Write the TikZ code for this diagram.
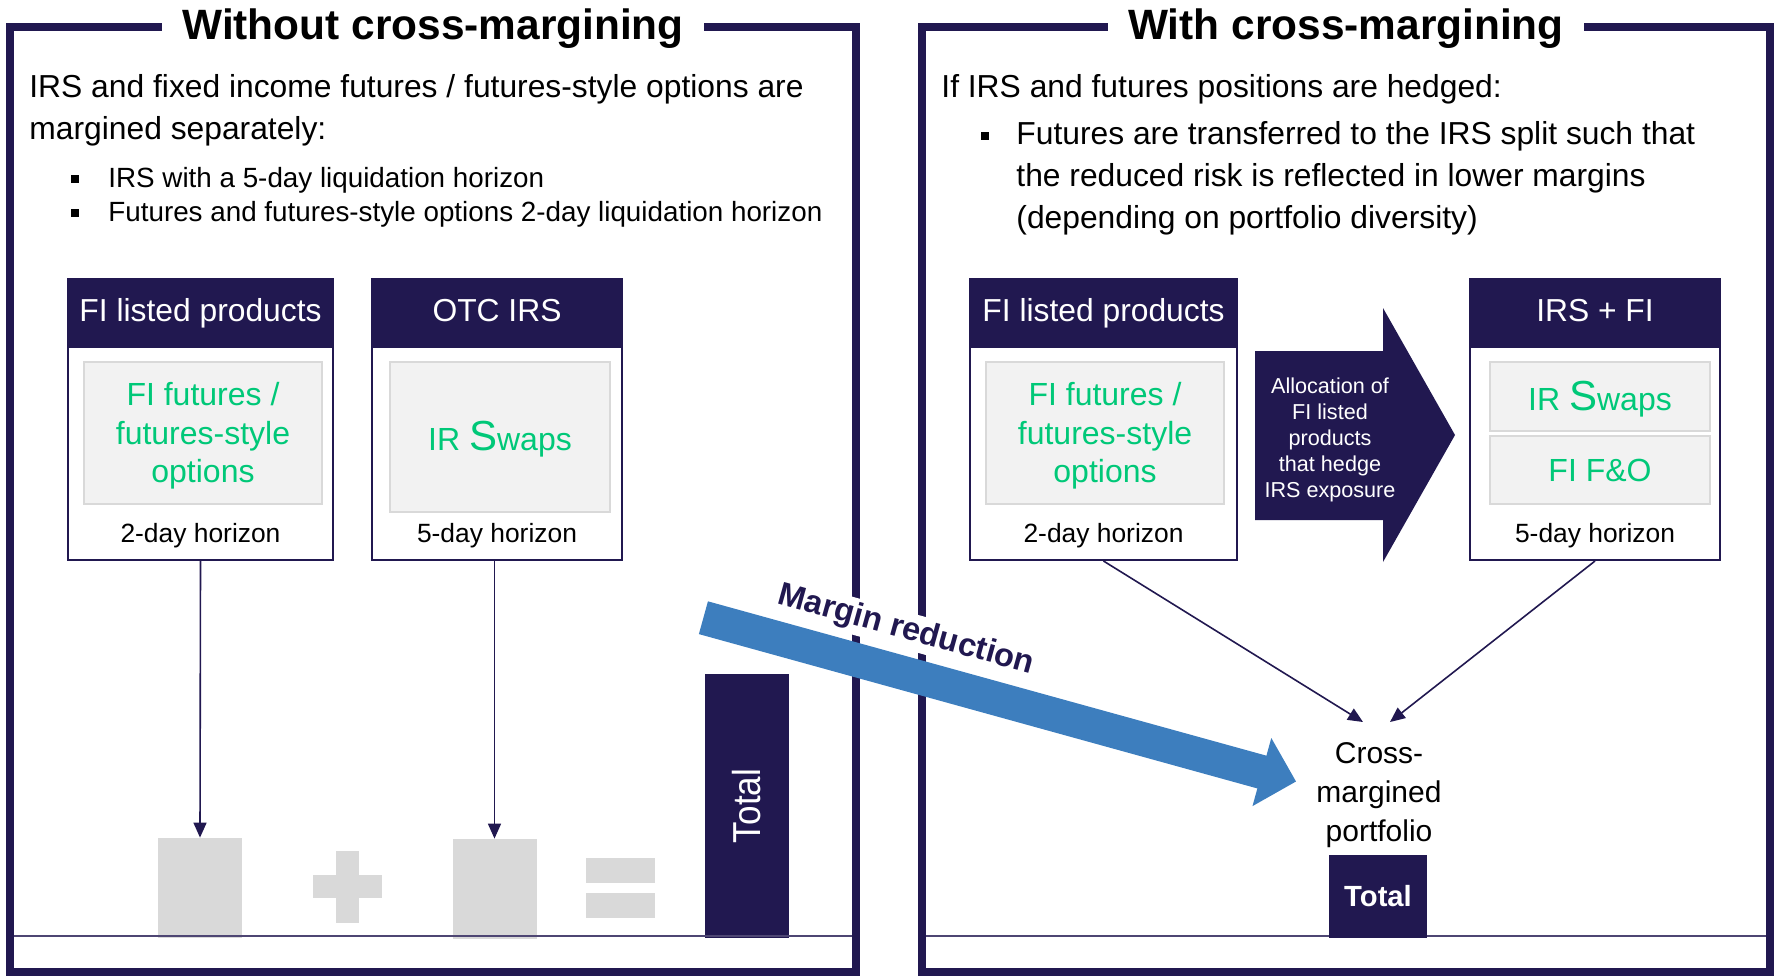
\documentclass[tikz,border=0pt]{standalone}
\usepackage{fontspec}
\setmainfont{Liberation Sans}
\usetikzlibrary{arrows.meta,positioning}

\definecolor{marino}{RGB}{33,24,80}
\definecolor{verde}{RGB}{0,200,120}
\definecolor{grisfondo}{RGB}{242,242,242}
\definecolor{grisborde}{RGB}{217,217,217}
\definecolor{azul}{RGB}{61,126,190}
\newcommand{\Sgrande}{{\fontsize{21}{21}\selectfont S}}

\begin{document}
\begin{tikzpicture}[x=0.5pt,y=-0.5pt,
  marco/.style={draw=marino,line width=4pt},
  titulo/.style={fill=white,inner xsep=10pt,inner ysep=2pt,anchor=base,font=\bfseries\fontsize{21.2}{24}\selectfont},
  texto/.style={anchor=base west,inner sep=0pt,font=\fontsize{15.9}{19}\selectfont},
  textochico/.style={texto,font=\fontsize{13.9}{16}\selectfont},
  vineta/.style={fill=black,minimum size=4pt,inner sep=0pt},
  caja/.style={draw=marino,line width=1pt,fill=white,inner sep=0pt,minimum height=140.5pt},
  cabecera/.style={fill=marino,draw=marino,line width=1pt,text=white,anchor=north,minimum height=34pt,inner sep=0pt,text height=11.5pt,text depth=3.3pt,font=\fontsize{15.9}{19}\selectfont},
  interior/.style={fill=grisfondo,draw=grisborde,line width=1.2pt,inner sep=0pt},
  verdes/.style={text=verde,align=center,inner sep=0pt,font=\fontsize{16}{19.3}\selectfont},
  horizonte/.style={anchor=base,inner sep=0pt,font=\fontsize{13.2}{15}\selectfont},
  flecha/.style={draw=marino,line width=0.8pt,-{Triangle[length=7.5pt,width=6.5pt]}},
  barra/.style={fill=grisborde,inner sep=0pt,minimum width=42pt,minimum height=50pt},
  total/.style={fill=marino,text=white,inner sep=0pt}
]
\useasboundingbox (0,0) rectangle (1776,976);

%Marcos de los dos paneles
\draw[marco] (10,27) rectangle (856,972);
\draw[marco] (922,27) rectangle (1770,972);
\node[titulo] (tituloL) at (433,39) {Without cross-margining};
\node[titulo] (tituloR) at (1346,39) {With cross-margining};

%Texto del panel izquierdo
\node[texto] (introL1) at (29,97) {IRS and fixed income futures / futures-style options are};
\node[texto] (introL2) at (29,139) {margined separately:};
\node[vineta] (vinL1) at (75,179) {};
\node[textochico] (itemL1) at (108,187) {IRS with a 5-day liquidation horizon};
\node[vineta] (vinL2) at (75,213) {};
\node[textochico] (itemL2) at (108,221) {Futures and futures-style options 2-day liquidation horizon};

%Texto del panel derecho
\node[texto] (introR) at (941,97) {If IRS and futures positions are hedged:};
\node[vineta] (vinR) at (985,136) {};
\node[texto] (itemR1) at (1016,144) {Futures are transferred to the IRS split such that};
\node[texto] (itemR2) at (1016,186) {the reduced risk is reflected in lower margins};
\node[texto] (itemR3) at (1016,228) {(depending on portfolio diversity)};

%Cajas de productos
\node[caja,minimum width=132.5pt] (cajaA) at (200.5,419.5) {};
\node[cabecera,minimum width=132.5pt] (cabA) at (cajaA.north) {FI listed products};
\node[interior,minimum width=119pt,minimum height=71pt] (intA) at (203,433) {};
\node[verdes] (verdeA) at (203,436) {FI futures /\\futures-style\\options};
\node[horizonte] (horA) at (200.5,542) {2-day horizon};

\node[caja,minimum width=125pt] (cajaB) at (497,419.5) {};
\node[cabecera,minimum width=125pt] (cabB) at (cajaB.north) {OTC IRS};
\node[interior,minimum width=110pt,minimum height=75pt] (intB) at (500,437) {};
\node[verdes] (verdeB) at (500,439) {IR \Sgrande waps};
\node[horizonte] (horB) at (497,542) {5-day horizon};

\node[caja,minimum width=133.5pt] (cajaC) at (1103.5,419.5) {};
\node[cabecera,minimum width=133.5pt] (cabC) at (cajaC.north) {FI listed products};
\node[interior,minimum width=119pt,minimum height=71pt] (intC) at (1105,433) {};
\node[verdes] (verdeC) at (1105,436) {FI futures /\\futures-style\\options};
\node[horizonte] (horC) at (1103.5,542) {2-day horizon};

\node[caja,minimum width=125pt] (cajaD) at (1595,419.5) {};
\node[cabecera,minimum width=125pt] (cabD) at (cajaD.north) {IRS + FI};
\node[interior,minimum width=110pt,minimum height=34.5pt] (intD1) at (1600,396.5) {};
\node[verdes] (verdeD1) at (1600,399) {IR \Sgrande waps};
\node[interior,minimum width=110pt,minimum height=34pt] (intD2) at (1600,470) {};
\node[verdes] (verdeD2) at (1600,470) {FI F\&O};
\node[horizonte] (horD) at (1595,542) {5-day horizon};

%Flecha grande de asignacion
\fill[marino] (1255,351) -- (1383,351) -- (1383,308) -- (1455,435) -- (1383,562) -- (1383,520) -- (1255,520) -- cycle;
\node[text=white,align=center,inner sep=0pt,font=\fontsize{10.8}{13}\selectfont] (asignacion) at (1330,440) {Allocation of\\FI listed\\products\\that hedge\\IRS exposure};

%Barras del panel izquierdo
\node[barra] (margenA) at (200,888) {};
\node[barra] (margenB) at (494.5,889) {};
\fill[grisborde] (336,851) rectangle (359,923);
\fill[grisborde] (313,875) rectangle (382,898);
\fill[grisborde] (586,858) rectangle (655,883);
\fill[grisborde] (586,893) rectangle (655,918);
\node[total,minimum width=132pt,minimum height=42pt,rotate=90,font=\addfontfeature{FakeStretch=0.9}\fontsize{19.5}{20}\selectfont] (totalL) at (747,806) {Total};

\draw[flecha] (cajaA.south) -- (margenA.north);
\draw[flecha] (cajaB.south -| margenB.north) -- (margenB.north);

%Lineas base
\draw[marino!80,line width=0.6pt] (14,936) -- (852,936);
\draw[marino!80,line width=0.6pt] (926,936) -- (1766,936);

%Cartera con margen cruzado
\node[align=center,anchor=north,inner sep=0pt,font=\fontsize{15}{19.5}\selectfont] (cruzado) at (1379,742) {Cross-\\margined\\portfolio};
\node[total,minimum width=49pt,minimum height=41.5pt,font=\bfseries\fontsize{14.6}{16}\selectfont] (totalR) at (1378,896.5) {Total};
\coordinate (llegadaA) at (1363,722);
\coordinate (llegadaB) at (1390,722);
\draw[flecha] (cajaC.south) -- (llegadaA);
\draw[flecha] (cajaD.south) -- (llegadaB);

%Flecha de reduccion de margen
\node[fill=white,inner sep=1.5pt,rotate=-15.5,anchor=south,text=marino,font=\bfseries\fontsize{16.3}{18}\selectfont] (reduccion) at (901,648.5) {Margin reduction};
\coordinate (colaMR) at (703.4,617.7);
\coordinate (puntaMR) at (1296.1,781.5);
\draw[azul,line width=17pt,-{Triangle[length=17.75pt,width=34.25pt]}] (colaMR) -- (puntaMR);
\end{tikzpicture}
\end{document}
